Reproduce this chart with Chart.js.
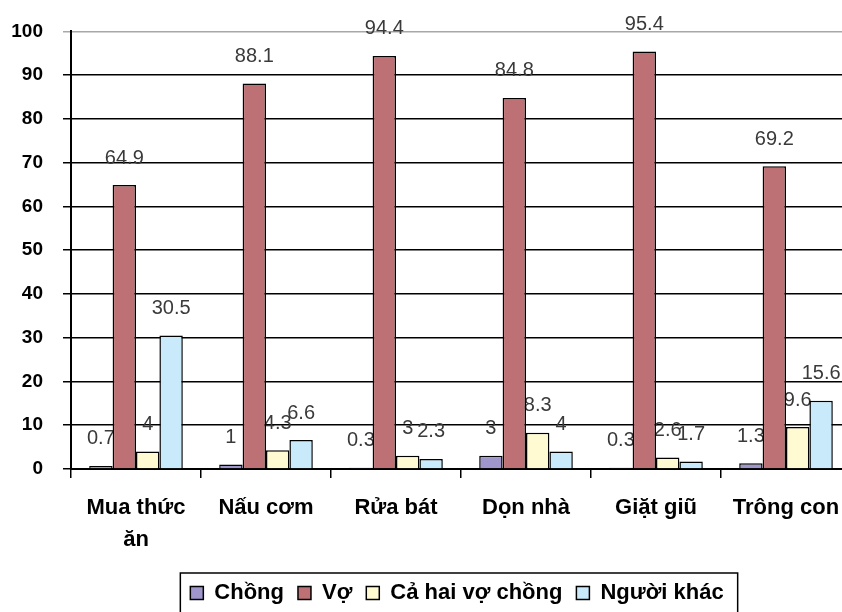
<!DOCTYPE html>
<html>
<head>
<meta charset="utf-8">
<script src="https://cdn.jsdelivr.net/npm/chart.js@4/dist/chart.umd.min.js"></script>
<style>
  html, body { margin: 0; padding: 0; background: #fff; overflow: hidden; width: 842px; height: 612px; }
  #wrap { position: relative; width: 860px; height: 612px; }
</style>
</head>
<body>
<div id="wrap"><canvas id="chart"></canvas></div>
<script>
// Household tasks and who does them (%)
const categories = [["Mua thức", "ăn"], "Nấu cơm", "Rửa bát", "Dọn nhà", "Giặt giũ", "Trông con"];
const seriesNames = ["Chồng", "Vợ", "Cả hai vợ chồng", "Người khác"];
const husband = [0.7, 1, 0.3, 3, 0.3, 1.3];
const wife = [64.9, 88.1, 94.4, 84.8, 95.4, 69.2];
const both = [4, 4.3, 3, 8.3, 2.6, 9.6];
const others = [30.5, 6.6, 2.3, 4, 1.7, 15.6];
const yTicks = [0, 10, 20, 30, 40, 50, 60, 70, 80, 90, 100];

const FONT = '"Liberation Sans", Arial, sans-serif';
const fills = ['#9f96cc', '#bd7174', '#fffad2', '#c9eafa'];

const seriesValues = [husband, wife, both, others];
const datasets = seriesValues.map((vals, k) => ({
  label: seriesNames[k],
  data: vals,
  backgroundColor: fills[k],
  borderColor: '#000',
  borderWidth: 1.5,
  categoryPercentage: 0.72,
  barPercentage: 1.0
}));

// value labels sit above each bar, painted under the bars
const valueLabels = {
  id: 'valueLabels',
  beforeDatasetsDraw(chart) {
    const ctx = chart.ctx;
    ctx.save();
    ctx.font = '20px ' + FONT;
    ctx.fillStyle = '#3a3a3a';
    ctx.textAlign = 'center';
    ctx.textBaseline = 'middle';
    chart.data.datasets.forEach((ds, di) => {
      const meta = chart.getDatasetMeta(di);
      meta.data.forEach((bar, i) => {
        ctx.fillText(String(ds.data[i]), bar.x, bar.y - 27);
      });
    });
    ctx.restore();
  }
};

// place the legend row under the plot and frame it
const legendFrame = {
  id: 'legendFrame',
  afterLayout(chart) {
    const lg = chart.legend;
    if (!lg || !lg.lineWidths) return;
    const pad = chart.options.plugins.legend.labels.padding;
    const lw = lg.lineWidths[0];
    const start = (lg.left + pad + lg.right - lw) / 2;
    const center = start + (lw - pad) / 2;
    const dx = 457 - center;
    lg.left += dx; lg.right += dx;
    lg.top += 2; lg.bottom += 2;
  },
  afterDraw(chart) {
    const lg = chart.legend;
    const hb = lg && lg.legendHitBoxes;
    if (!hb || !hb.length) return;
    const first = hb[0], last = hb[hb.length - 1];
    const ctx = chart.ctx;
    const cy = first.top + first.height / 2;
    ctx.save();
    ctx.strokeStyle = '#000';
    ctx.lineWidth = 1.5;
    ctx.strokeRect(first.left - 10, cy - 20, (last.left + last.width + 14) - (first.left - 10), 60);
    ctx.restore();
  }
};

new Chart(document.getElementById('chart'), {
  type: 'bar',
  data: { labels: categories, datasets },
  plugins: [valueLabels, legendFrame],
  options: {
    responsive: true,
    maintainAspectRatio: false,
    animation: false,
    layout: { padding: { left: 0, right: 9, top: 29, bottom: 0 } },
    plugins: {
      tooltip: { enabled: false },
      legend: {
        position: 'bottom',
        labels: {
          boxWidth: 13,
          boxHeight: 13,
          padding: 14,
          color: '#000',
          font: { family: FONT, size: 22, weight: 'bold' }
        }
      }
    },
    scales: {
      x: {
        offset: true,
        afterFit(s) { s.height = 97; },
        grid: {
          display: true,
          offset: true,
          drawOnChartArea: false,
          drawTicks: true,
          tickLength: 9,
          color: '#000',
          lineWidth: 1.5
        },
        border: { display: true, color: '#000', width: 2 },
        ticks: {
          color: '#000',
          padding: 14,
          maxRotation: 0,
          autoSkip: false,
          font: { family: FONT, size: 22, weight: 'bold', lineHeight: 1.45 }
        }
      },
      y: {
        min: 0,
        max: 100,
        afterFit(s) { s.width = 71; },
        afterBuildTicks(s) { s.ticks = yTicks.map(v => ({ value: v })); },
        grid: {
          color: ctx => (ctx.tick && ctx.tick.value === 100 ? '#a8a8a8' : '#000'),
          lineWidth: 1.5,
          tickLength: 8,
          drawTicks: true
        },
        border: { display: true, color: '#000', width: 2 },
        ticks: {
          color: '#000',
          padding: 20,
          font: { family: FONT, size: 19, weight: 'bold' }
        }
      }
    }
  }
});
</script>
</body>
</html>
